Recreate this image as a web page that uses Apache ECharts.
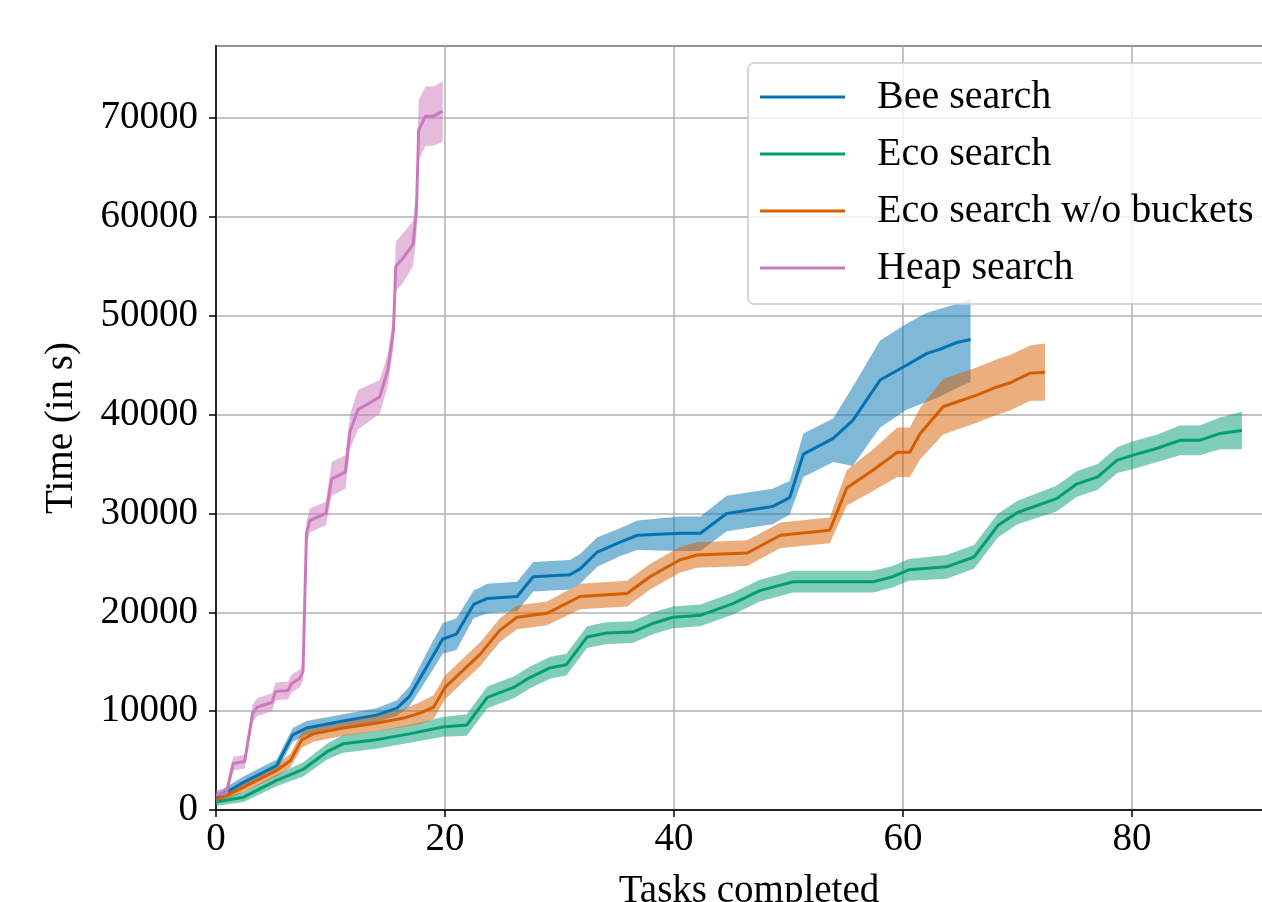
<!DOCTYPE html>
<html>
<head>
<meta charset="utf-8">
<script src="https://cdn.jsdelivr.net/npm/echarts@6/dist/echarts.min.js"></script>
<style>
html,body{margin:0;padding:0;background:#fff;}
#chart{width:1262px;height:902px;}
</style>
</head>
<body>
<div id="chart"></div>
<script>
// ---- Data ----
const seriesNames = ['Bee search', 'Eco search', 'Eco search w/o buckets', 'Heap search'];
const xTicks = [0, 20, 40, 60, 80];
const yTicks = [0, 10000, 20000, 30000, 40000, 50000, 60000, 70000];

const beeX    = [0, 2.4, 5.3, 6.7, 7.9, 11.1, 14.0, 15.8, 16.9, 18.4, 19.8, 21.0, 22.5, 23.7, 26.3, 27.7, 30.9, 31.8, 33.3, 35.3, 36.8, 40.5, 42.3, 44.6, 48.6, 50.1, 51.3, 53.9, 55.6, 58.0, 60.3, 62.1, 63.2, 64.7, 65.9];
const beeMean = [1200, 2800, 4500, 7600, 8300, 9000, 9600, 10300, 11500, 14500, 17300, 17800, 20800, 21400, 21600, 23600, 23800, 24400, 26100, 27100, 27800, 28000, 28000, 30000, 30700, 31600, 36000, 37600, 39400, 43500, 45000, 46200, 46600, 47300, 47600];
const beeLo   = [700, 2200, 3900, 6900, 7600, 8300, 8900, 9500, 10500, 13200, 15800, 16200, 19400, 19900, 20100, 22100, 22300, 22900, 24600, 25700, 26300, 26200, 26200, 28200, 28900, 29900, 33700, 35200, 34800, 38700, 40500, 41300, 41800, 42700, 43300];
const beeHi   = [1700, 3400, 5100, 8300, 9000, 9700, 10300, 11100, 12500, 15900, 18900, 19400, 22200, 22900, 23100, 25100, 25300, 25900, 27600, 28500, 29300, 29700, 29700, 31800, 32500, 33300, 38100, 39600, 42800, 47500, 49200, 50300, 50700, 51200, 51700];

const ecoX    = [0, 2.4, 5.3, 7.6, 9.7, 11.1, 14.0, 16.9, 19.8, 21.9, 23.7, 26.0, 27.4, 29.2, 30.6, 32.4, 34.1, 36.4, 38.2, 39.9, 42.3, 45.2, 47.5, 50.4, 57.4, 59.1, 60.5, 63.8, 66.2, 68.3, 70.0, 73.4, 75.2, 77.0, 78.7, 80.1, 82.2, 84.2, 85.9, 87.7, 89.6];
const ecoMean = [800, 1300, 3000, 4100, 5900, 6700, 7100, 7700, 8400, 8600, 11400, 12400, 13400, 14400, 14700, 17500, 17900, 18000, 18900, 19500, 19700, 20900, 22200, 23100, 23100, 23600, 24300, 24600, 25600, 28800, 30100, 31500, 33000, 33700, 35400, 35900, 36600, 37400, 37400, 38100, 38400];
const ecoLo   = [400, 800, 2400, 3400, 5100, 5800, 6200, 6800, 7400, 7500, 10300, 11300, 12300, 13300, 13600, 16400, 16800, 16900, 17800, 18400, 18600, 19800, 21100, 22000, 22000, 22500, 23200, 23400, 24400, 27600, 28900, 30200, 31700, 32400, 34100, 34500, 35200, 35900, 35900, 36500, 36500];
const ecoHi   = [1200, 1800, 3600, 4800, 6700, 7600, 8000, 8600, 9400, 9700, 12500, 13500, 14500, 15500, 15800, 18600, 19000, 19100, 20000, 20600, 20800, 22000, 23300, 24200, 24200, 24700, 25400, 25800, 26800, 30000, 31300, 32800, 34300, 35000, 36700, 37300, 38000, 38900, 38900, 39700, 40300];

const nobX    = [0, 2.4, 5.3, 6.5, 7.5, 8.5, 11.1, 14.1, 16.4, 17.8, 19.0, 20.0, 23.1, 24.8, 26.3, 28.9, 31.8, 35.9, 37.9, 40.5, 42.0, 46.4, 49.3, 53.6, 55.1, 57.4, 59.5, 60.6, 61.5, 63.5, 66.5, 68.2, 69.3, 71.1, 72.4];
const nobMean = [1000, 2300, 4000, 5000, 7100, 7700, 8300, 8800, 9300, 9800, 10400, 12400, 15800, 18200, 19500, 19900, 21600, 21900, 23600, 25300, 25800, 26000, 27800, 28300, 32600, 34400, 36200, 36200, 38100, 40800, 42000, 42800, 43200, 44200, 44300];
const nobLo   = [600, 1800, 3400, 4300, 6300, 6900, 7500, 8000, 8400, 8700, 9200, 11200, 14600, 17000, 18300, 18700, 20300, 20600, 22300, 24000, 24500, 24700, 26500, 27000, 30800, 32300, 33700, 33700, 35500, 38000, 39200, 40000, 40400, 41400, 41400];
const nobHi   = [1400, 2800, 4600, 5700, 7900, 8500, 9100, 9600, 10200, 10900, 11600, 13600, 17000, 19400, 20700, 21100, 22900, 23200, 24900, 26600, 27100, 27300, 29100, 29600, 34400, 36500, 38700, 38700, 40700, 43600, 44800, 45600, 46000, 47000, 47200];

const heapX    = [0, 0.9, 1.5, 2.5, 3.2, 3.6, 4.1, 4.9, 5.2, 6.3, 6.6, 7.3, 7.6, 7.9, 8.2, 9.6, 10.1, 11.3, 11.7, 12.4, 14.3, 15.0, 15.5, 15.7, 16.3, 17.2, 17.5, 17.7, 18.3, 19.0, 19.8];
const heapMean = [1500, 1700, 4700, 4900, 9800, 10400, 10600, 10900, 12000, 12100, 12800, 13300, 14000, 28000, 29300, 30000, 33500, 34200, 38300, 40500, 41800, 44500, 48500, 55000, 55800, 57200, 60500, 68800, 70200, 70200, 70700];
const heapLo   = [1000, 1200, 4000, 4200, 8900, 9500, 9700, 10000, 11100, 11200, 11900, 12400, 13100, 26800, 28100, 28800, 31800, 32500, 36500, 38500, 40100, 42900, 46900, 52500, 53300, 55000, 58000, 65800, 67200, 67200, 67600];
const heapHi   = [2000, 2200, 5400, 5600, 10700, 11300, 11500, 11800, 12900, 13000, 13700, 14200, 14900, 29200, 30500, 31200, 35200, 35900, 40000, 42500, 43500, 46100, 50100, 57500, 58300, 59600, 62500, 71800, 73200, 73200, 73700];

const colors = ['#0173b2', '#029e73', '#d55e00', '#cc78bc'];
const bandColors = ['rgba(1,115,178,0.5)', 'rgba(2,158,115,0.5)', 'rgba(213,94,0,0.5)', 'rgba(204,120,188,0.5)'];

const groups = [
  {x: beeX, m: beeMean, lo: beeLo, hi: beeHi},
  {x: ecoX, m: ecoMean, lo: ecoLo, hi: ecoHi},
  {x: nobX, m: nobMean, lo: nobLo, hi: nobHi},
  {x: heapX, m: heapMean, lo: heapLo, hi: heapHi}
];

const FONT = 'Liberation Serif';
const FS = 39;

const series = [];
groups.forEach(function (g, k) {
  const bandData = g.x.map(function (x, i) { return [x, g.lo[i], g.hi[i]]; });
  series.push({
    type: 'custom',
    name: seriesNames[k] + ' band',
    silent: true,
    z: 2,
    encode: {x: 0, y: [1, 2]},
    data: bandData,
    renderItem: function (params, api) {
      if (params.dataIndex !== 0) return null;
      const pts = [];
      for (let i = 0; i < g.x.length; i++) pts.push(api.coord([g.x[i], g.hi[i]]));
      for (let i = g.x.length - 1; i >= 0; i--) pts.push(api.coord([g.x[i], g.lo[i]]));
      return {type: 'polygon', shape: {points: pts}, style: {fill: bandColors[k], stroke: null}};
    }
  });
});
groups.forEach(function (g, k) {
  series.push({
    type: 'line',
    name: seriesNames[k],
    z: 3,
    symbol: 'none',
    showSymbol: false,
    color: colors[k],
    lineStyle: {width: 3, color: colors[k]},
    data: g.x.map(function (x, i) { return [x, g.m[i]]; })
  });
});

const chart = echarts.init(document.getElementById('chart'), null, {renderer: 'canvas'});
chart.setOption({
  animation: false,
  backgroundColor: '#ffffff',
  grid: {left: 216, top: 46, bottom: 92, right: -20, show: true, borderColor: '#000', borderWidth: 1.5,
    containLabel: false, outerBoundsMode: 'none'},
  legend: {
    data: seriesNames,
    orient: 'vertical',
    left: 748, top: 63,
    icon: 'rect',
    itemWidth: 85, itemHeight: 3,
    itemGap: 17,
    padding: [14, 20, 16, 12],
    backgroundColor: 'rgba(255,255,255,0.8)',
    borderColor: '#cccccc', borderWidth: 1.5, borderRadius: 6,
    textStyle: {fontFamily: FONT, fontSize: 40, color: '#000', lineHeight: 40, padding: [0, 0, 0, 27]}
  },
  xAxis: {
    type: 'value', min: 0, max: 93.1, interval: 20,
    name: 'Tasks completed', nameLocation: 'middle', nameGap: 62,
    nameTextStyle: {fontFamily: FONT, fontSize: FS, color: '#000', verticalAlign: 'top'},
    axisLine: {show: true, onZero: false, lineStyle: {color: '#000', width: 1.5}},
    axisTick: {show: true, inside: false, length: 7, lineStyle: {color: '#000', width: 1.5}},
    axisLabel: {show: true, showMaxLabel: false, margin: 10, fontFamily: FONT, fontSize: FS, color: '#000',
      formatter: function (v) { return xTicks.indexOf(v) >= 0 ? String(v) : ''; }},
    splitLine: {show: true, lineStyle: {color: '#b0b0b0', width: 1.5}}
  },
  yAxis: {
    type: 'value', min: 0, max: 77300, interval: 10000,
    name: 'Time (in s)', nameLocation: 'middle', nameGap: 135,
    nameTextStyle: {fontFamily: FONT, fontSize: FS, color: '#000'},
    axisLine: {show: true, onZero: false, lineStyle: {color: '#000', width: 1.5}},
    axisTick: {show: true, inside: false, length: 7, lineStyle: {color: '#000', width: 1.5}},
    axisLabel: {show: true, showMaxLabel: false, margin: 18, fontFamily: FONT, fontSize: FS, color: '#000',
      formatter: function (v) { return yTicks.indexOf(v) >= 0 ? String(v) : ''; }},
    splitLine: {show: true, lineStyle: {color: '#b0b0b0', width: 1.5}}
  },
  series: series
});
</script>
</body>
</html>
